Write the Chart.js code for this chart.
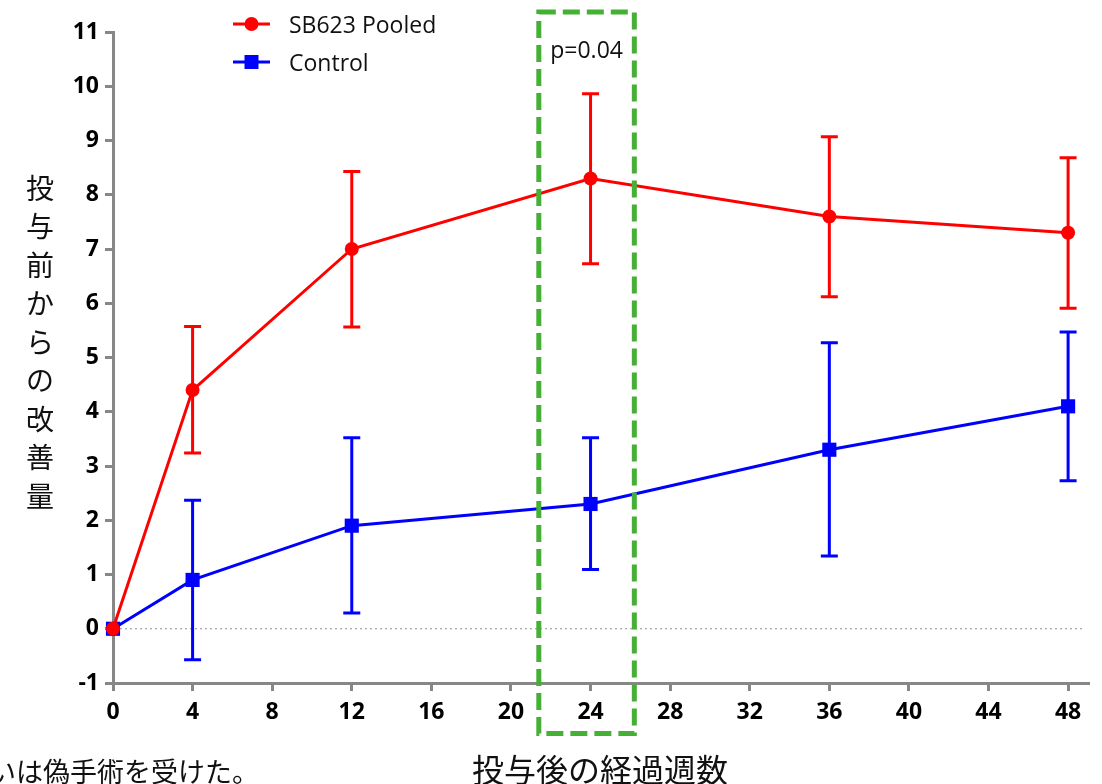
<!DOCTYPE html>
<html>
<head>
<meta charset="utf-8">
<script src="https://cdn.jsdelivr.net/npm/chart.js@4"></script>
<style>
html,body{margin:0;padding:0;background:#fff;}
#wrap{width:1102px;height:784px;position:relative;}
</style>
</head>
<body>
<div id="wrap"><canvas id="c" width="1102" height="784"></canvas></div>
<script>
// ---- data ----
const weeks = [0, 4, 12, 24, 36, 48];
const xTicks = [0, 4, 8, 12, 16, 20, 24, 28, 32, 36, 40, 44, 48];
const yTicks = [-1, 0, 1, 2, 3, 4, 5, 6, 7, 8, 9, 10, 11];
const sb623 = [0, 4.4, 7.0, 8.3, 7.6, 7.3];
const sb623Upper = [null, 5.57, 8.43, 9.86, 9.07, 8.68];
const sb623Lower = [null, 3.24, 5.56, 6.73, 6.12, 5.91];
const control = [0, 0.9, 1.9, 2.3, 3.3, 4.1];
const controlUpper = [null, 2.37, 3.52, 3.52, 5.27, 5.47];
const controlLower = [null, -0.57, 0.29, 1.09, 1.34, 2.73];
const seriesLabels = ['SB623 Pooled', 'Control'];
const yTitle = '投与前からの改善量';
const xTitle = '投与後の経過週数';
const noteText = 'いは偽手術を受けた。';
const pText = 'p=0.04';
// highlight box (data units)
const boxX = [21.4, 26.2];
const boxY = [-1.93, 11.37];

const LATIN = '"Open Sans", Lato, sans-serif';
const CJK = '"Noto Sans CJK JP", sans-serif';

const errorBars = {
  id: 'errorBars',
  afterDatasetsDraw(chart) {
    const ctx = chart.ctx, xs = chart.scales.x, ys = chart.scales.y;
    const sets = [[sb623Lower, sb623Upper, '#ff0000'], [controlLower, controlUpper, '#0000ff']];
    ctx.save();
    ctx.lineWidth = 3;
    sets.forEach(([lo, hi, col]) => {
      ctx.strokeStyle = col;
      weeks.forEach((w, i) => {
        if (lo[i] == null) return;
        const px = xs.getPixelForValue(w);
        const y1 = ys.getPixelForValue(lo[i]);
        const y2 = ys.getPixelForValue(hi[i]);
        ctx.beginPath();
        ctx.moveTo(px, y1); ctx.lineTo(px, y2);
        ctx.moveTo(px - 8.5, y1); ctx.lineTo(px + 8.5, y1);
        ctx.moveTo(px - 8.5, y2); ctx.lineTo(px + 8.5, y2);
        ctx.stroke();
      });
    });
    ctx.restore();
  }
};

const extras = {
  id: 'extras',
  beforeDatasetsDraw(chart) {
    const ctx = chart.ctx, ys = chart.scales.y;
    const y0 = ys.getPixelForValue(0);
    ctx.save();
    ctx.strokeStyle = '#909090';
    ctx.lineWidth = 1;
    ctx.setLineDash([2, 3]);
    ctx.beginPath();
    ctx.moveTo(chart.chartArea.left + 2, y0);
    ctx.lineTo(chart.chartArea.right - 3, y0);
    ctx.stroke();
    ctx.restore();
  },
  afterDraw(chart) {
    const ctx = chart.ctx, xs = chart.scales.x, ys = chart.scales.y;
    ctx.save();
    // dashed box
    const bx1 = xs.getPixelForValue(boxX[0]), bx2 = xs.getPixelForValue(boxX[1]);
    const by1 = ys.getPixelForValue(boxY[1]), by2 = ys.getPixelForValue(boxY[0]);
    ctx.strokeStyle = '#45b035';
    ctx.lineWidth = 5;
    ctx.setLineDash([17, 7]);
    ctx.strokeRect(bx1, by1, bx2 - bx1, by2 - by1);
    ctx.setLineDash([]);
    // p text
    ctx.fillStyle = '#111';
    ctx.font = '23px ' + LATIN;
    ctx.textAlign = 'center';
    ctx.textBaseline = 'middle';
    ctx.fillText(pText, (bx1 + bx2) / 2, 51);
    // legend
    const legendItems = [[seriesLabels[0], '#ff0000', 'circle', 24], [seriesLabels[1], '#0000ff', 'rect', 62]];
    legendItems.forEach(([lab, col, shape, ly]) => {
      ctx.strokeStyle = col; ctx.fillStyle = col; ctx.lineWidth = 3;
      ctx.beginPath(); ctx.moveTo(233, ly); ctx.lineTo(270, ly); ctx.stroke();
      ctx.beginPath();
      if (shape === 'circle') ctx.arc(251.5, ly, 7, 0, Math.PI * 2);
      else ctx.rect(244.5, ly - 7, 14, 14);
      ctx.fill();
      ctx.fillStyle = '#111';
      ctx.font = '23px ' + LATIN;
      ctx.textAlign = 'left';
      ctx.fillText(lab, 289, ly + 2);
    });
    // y title (vertical)
    ctx.font = '28px ' + CJK;
    ctx.textAlign = 'center';
    ctx.fillStyle = '#111';
    [...yTitle].forEach((ch, i) => ctx.fillText(ch, 40, 188 + i * 38.5));
    // x title
    ctx.font = '32px ' + CJK;
    ctx.fillText(xTitle, 600, 770);
    // note text (cropped at left)
    ctx.font = '27px ' + CJK;
    ctx.textAlign = 'left';
    ctx.fillText(noteText, -11, 772);
    ctx.restore();
  }
};

new Chart(document.getElementById('c'), {
  type: 'line',
  data: {
    datasets: [
      {
        label: seriesLabels[0],
        data: weeks.map((w, i) => ({ x: w, y: sb623[i] })),
        borderColor: '#ff0000', backgroundColor: '#ff0000',
        borderWidth: 3, pointStyle: 'circle', pointRadius: 7, pointBorderWidth: 0,
        tension: 0, clip: false
      },
      {
        label: seriesLabels[1],
        data: weeks.map((w, i) => ({ x: w, y: control[i] })),
        borderColor: '#0000ff', backgroundColor: '#0000ff',
        borderWidth: 3, pointStyle: 'rect', pointRadius: 10, pointBorderWidth: 0,
        tension: 0, clip: false
      }
    ]
  },
  options: {
    responsive: false,
    animation: false,
    events: [],
    layout: { padding: { left: 0, right: 14, top: 32, bottom: 0 } },
    plugins: { legend: { display: false }, tooltip: { enabled: false } },
    scales: {
      x: {
        type: 'linear', min: 0, max: 49,
        afterBuildTicks: s => { s.ticks = xTicks.map(v => ({ value: v })); },
        afterFit: s => { s.height = 101; },
        border: { display: true, color: '#878787', width: 3 },
        grid: { drawOnChartArea: false, drawTicks: true, tickLength: 8, color: '#878787', lineWidth: 3 },
        ticks: { color: '#000', font: { family: LATIN, size: 23, weight: 'bold' }, padding: 8, maxRotation: 0, autoSkip: false }
      },
      y: {
        type: 'linear', min: -1, max: 11,
        afterBuildTicks: s => { s.ticks = yTicks.map(v => ({ value: v })); },
        afterFit: s => { s.width = 113; },
        border: { display: true, color: '#878787', width: 3 },
        grid: { drawOnChartArea: false, drawTicks: true, tickLength: 8, color: '#878787', lineWidth: 3 },
        ticks: { color: '#000', font: { family: LATIN, size: 23, weight: 'bold' }, padding: 6, autoSkip: false }
      }
    }
  },
  plugins: [errorBars, extras]
});
</script>
</body>
</html>
